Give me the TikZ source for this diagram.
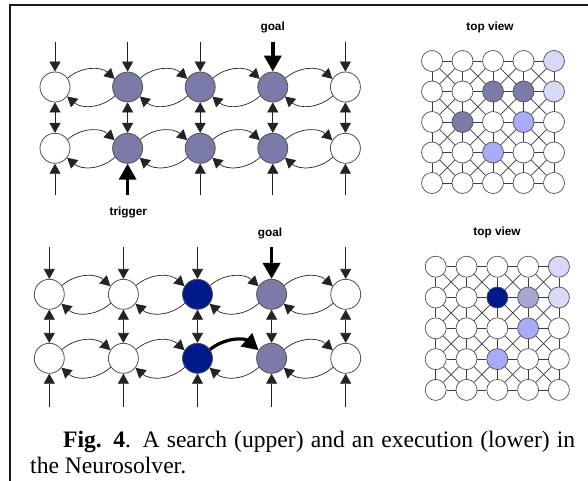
\documentclass[tikz,border=0pt]{standalone}
\usepackage{fontspec}
\setmainfont{Liberation Serif}
\newfontfamily\lblfont{Liberation Sans}
\newfontfamily\capfont{Liberation Serif}
\usetikzlibrary{arrows.meta}

\definecolor{gb}{RGB}{122,123,168}
\definecolor{deepblue}{RGB}{0,26,140}
\definecolor{lav}{RGB}{216,217,247}
\definecolor{lb}{RGB}{169,171,249}
\definecolor{midblue}{RGB}{165,167,209}
\definecolor{ndline}{RGB}{80,80,80}
\definecolor{conn}{RGB}{35,35,35}
\definecolor{gridline}{RGB}{60,60,60}
\definecolor{framecol}{RGB}{25,25,25}

\tikzset{
  nd/.style={circle, draw=ndline, line width=0.8pt, minimum size=30pt, inner sep=0pt},
  gn/.style={circle, draw=ndline, line width=0.7pt, minimum size=21pt, inner sep=0pt},
  con/.style={draw=conn, line width=0.7pt},
  tip/.style={-{Triangle[length=10pt,width=11pt]}},
  dbl/.style={{Triangle[length=10pt,width=11pt]}-{Triangle[length=10pt,width=11pt]}},
  big/.style={draw=black, line width=3.6pt, -{Triangle[length=16pt,width=17pt]}},
  glink/.style={draw=gridline, line width=0.7pt},
  lbl/.style={font=\lblfont\bfseries\fontsize{11.8}{13}\selectfont, inner sep=0pt, anchor=base},
  captxt/.style={font=\capfont\fontsize{23.6}{26}\selectfont, inner sep=0pt, anchor=base west},
}

% colours of the coloured cells in the two top views (row, column)
\expandafter\def\csname gA04\endcsname{lav}
\expandafter\def\csname gA12\endcsname{gb}
\expandafter\def\csname gA13\endcsname{gb}
\expandafter\def\csname gA14\endcsname{lav}
\expandafter\def\csname gA21\endcsname{gb}
\expandafter\def\csname gA23\endcsname{lb}
\expandafter\def\csname gA32\endcsname{lb}
\expandafter\def\csname gB04\endcsname{lav}
\expandafter\def\csname gB12\endcsname{deepblue}
\expandafter\def\csname gB13\endcsname{midblue}
\expandafter\def\csname gB14\endcsname{lav}
\expandafter\def\csname gB23\endcsname{lb}
\expandafter\def\csname gB32\endcsname{lb}

\begin{document}
\begin{tikzpicture}[x=1pt,y=-1pt]
\useasboundingbox (0,0) rectangle (588,481);
\fill[white] (0,0) rectangle (588,481);

% frame
\draw[framecol, line width=2pt] (10,481) -- (10,5) -- (588,5);

% ---------------- search: two layers of neurons ----------------
\foreach \i/\col in {0/white,1/gb,2/gb,3/gb,4/white}{
  \pgfmathsetmacro\x{55+72.6*\i}
  \node[nd,fill=\col] (ua\i) at (\x,87) {};
  \node[nd,fill=\col] (ub\i) at (\x,148.3) {};
  \coordinate (uat\i) at (\x,41.7);
  \coordinate (ubb\i) at (\x,195);
}
\foreach \i in {0,1,2,4} \draw[con,tip] (uat\i) -- (ua\i);
\draw[big] (uat3) -- (ua3);
\foreach \i in {0,...,4} \draw[con,dbl] (ua\i) -- (ub\i);
\foreach \i in {0,2,3,4} \draw[con,tip] (ubb\i) -- (ub\i);
\draw[big] (ubb1) -- (ub1);
\foreach \i in {0,...,3}{
  \pgfmathtruncatemacro\j{\i+1}
  \foreach \r in {a,b}{
    \draw[con,tip] (u\r\i.35) to[bend left=42] (u\r\j.148);
    \draw[con,tip] (u\r\j.-145) to[bend left=42] (u\r\i.-38);
  }
}
\node[lbl] (goalU) at (272.7,31) {goal};
\node[lbl] (trig) at (128.3,215) {trigger};

% ---------------- execution: two layers of neurons ----------------
\foreach \i/\col in {0/white,1/white,2/deepblue,3/gb,4/white}{
  \pgfmathsetmacro\x{49.3+74.1*\i}
  \node[nd,fill=\col] (la\i) at (\x,294.3) {};
  \node[nd,fill=\col] (lb\i) at (\x,358.3) {};
  \coordinate (lat\i) at (\x,247.3);
  \coordinate (lbb\i) at (\x,407);
}
\foreach \i in {0,1,2,4} \draw[con,tip] (lat\i) -- (la\i);
\draw[big] (lat3) -- (la3);
\foreach \i in {0,...,4} \draw[con,dbl] (la\i) -- (lb\i);
\foreach \i in {0,...,4} \draw[con,tip] (lbb\i) -- (lb\i);
\foreach \i in {0,...,3}{
  \pgfmathtruncatemacro\j{\i+1}
  \draw[con,tip] (la\i.35) to[bend left=42] (la\j.148);
  \draw[con,tip] (la\j.-145) to[bend left=42] (la\i.-38);
  \draw[con,tip] (lb\j.-145) to[bend left=42] (lb\i.-38);
}
\foreach \i in {0,1,3}{
  \pgfmathtruncatemacro\j{\i+1}
  \draw[con,tip] (lb\i.35) to[bend left=42] (lb\j.148);
}
\draw[big, line width=3.2pt] (lb2.35) to[bend left=40] (lb3.148);
\node[lbl] (goalL) at (270,236) {goal};

% ---------------- top views ----------------
\foreach \g/\x/\y/\s in {A/432/61/30.5, B/435.7/266.7/30.8}{
  \foreach \r in {0,...,4}{
    \foreach \c in {0,...,4}{
      \ifcsname g\g\r\c\endcsname
        \edef\fc{\csname g\g\r\c\endcsname}%
      \else
        \def\fc{white}%
      \fi
      \node[gn, fill=\fc] (g\g\r\c) at ({\x+\s*\c},{\y+\s*\r}) {};
    }
  }
  \foreach \r in {0,...,4}{
    \foreach \c in {0,...,3}{
      \pgfmathtruncatemacro\d{\c+1}
      \draw[glink] (g\g\r\c) -- (g\g\r\d);
      \draw[glink] (g\g\c\r) -- (g\g\d\r);
    }
  }
  \foreach \r in {0,...,3}{
    \foreach \c in {0,...,3}{
      \pgfmathtruncatemacro\rr{\r+1}
      \pgfmathtruncatemacro\cc{\c+1}
      \draw[glink] (g\g\r\c) -- (g\g\rr\cc);
      \draw[glink] (g\g\r\cc) -- (g\g\rr\c);
    }
  }
}
\node[lbl] (tvU) at (490,30.3) {top view};
\node[lbl] (tvL) at (497,235.7) {top view};

% ---------------- caption ----------------
\node[captxt] (cap1) at (63,447) {\hbox to 512pt{\textbf{Fig. 4}. A search (upper) and an execution (lower) in}};
\node[captxt] (cap2) at (30,473) {the Neurosolver.};
\end{tikzpicture}
\end{document}
